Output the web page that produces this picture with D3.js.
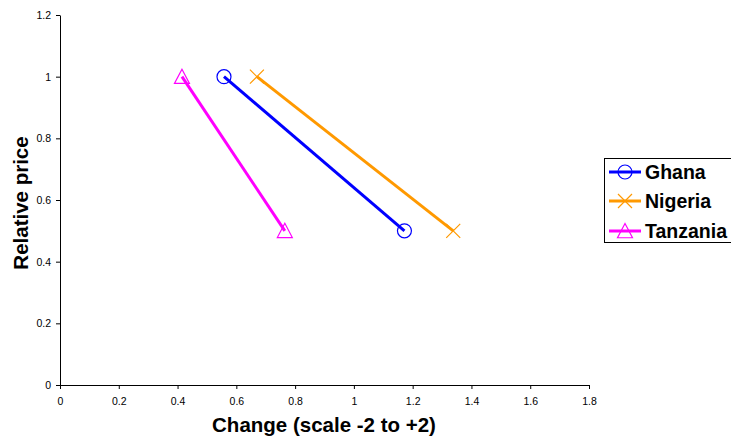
<!DOCTYPE html>
<html>
<head>
<meta charset="utf-8">
<script src="https://cdn.jsdelivr.net/npm/d3@7"></script>
<style>
  html, body { margin: 0; padding: 0; background: #fff; overflow: hidden; }
  svg { display: block; font-family: Arial, "Liberation Sans", sans-serif; }
</style>
</head>
<body>
<svg id="chart" width="731" height="439"></svg>
<script>
// Series: change score (x) against relative price (y)
const seriesNames = ["Ghana", "Nigeria", "Tanzania"];
const seriesColors = ["#0000FF", "#FF9900", "#FF00FF"];
const seriesMarkers = ["circle", "cross", "triangle"];
const ghanaPoints = [[0.558, 1.0], [1.172, 0.5]];
const nigeriaPoints = [[0.67, 1.0], [1.338, 0.5]];
const tanzaniaPoints = [[0.415, 1.0], [0.765, 0.5]];
const xTicks = [0, 0.2, 0.4, 0.6, 0.8, 1, 1.2, 1.4, 1.6, 1.8];
const yTicks = [0, 0.2, 0.4, 0.6, 0.8, 1, 1.2];

const allPoints = [ghanaPoints, nigeriaPoints, tanzaniaPoints];
const svg = d3.select("#chart");
const fontStack = "Arial, 'Liberation Sans', sans-serif";

const x = d3.scaleLinear().domain([0, 1.8]).range([60, 589]);
const y = d3.scaleLinear().domain([0, 1.2]).range([385, 15]);

// Axes
const xAxis = d3.axisBottom(x).tickValues(xTicks).tickSize(4).tickSizeOuter(0)
  .tickFormat(d3.format("~g"));
const yAxis = d3.axisLeft(y).tickValues(yTicks).tickSize(4).tickSizeOuter(0)
  .tickFormat(d3.format("~g"));

const gx = svg.append("g").attr("transform", `translate(0,${y(0)})`).call(xAxis);
gx.select(".domain").attr("stroke", "#000");
gx.selectAll(".tick line").attr("stroke", "#000");
gx.selectAll(".tick text").attr("font-size", 10.5).attr("fill", "#000")
  .attr("font-family", fontStack).attr("y", 0).attr("dy", 0)
  .attr("transform", "translate(0,20)");

const gy = svg.append("g").attr("transform", `translate(${x(0)},0)`).call(yAxis);
gy.select(".domain").attr("stroke", "#000");
gy.selectAll(".tick line").attr("stroke", "#000");
gy.selectAll(".tick text").attr("font-size", 10.5).attr("fill", "#000")
  .attr("font-family", fontStack).attr("x", -9);

// Axis titles
svg.append("text")
  .attr("x", 324).attr("y", 432)
  .attr("text-anchor", "middle")
  .attr("font-size", 20.5).attr("font-weight", "bold")
  .text("Change (scale -2 to +2)");

svg.append("text")
  .attr("transform", `translate(28,203) rotate(-90)`)
  .attr("text-anchor", "middle")
  .attr("font-size", 20.5).attr("font-weight", "bold")
  .text("Relative price");

// Marker drawing
function drawMarker(g, type, color, cx, cy) {
  if (type === "circle") {
    g.append("circle").attr("cx", cx).attr("cy", cy).attr("r", 7)
      .attr("fill", "none").attr("stroke", color).attr("stroke-width", 1.2);
  } else if (type === "cross") {
    const s = 7;
    g.append("path")
      .attr("d", `M${cx - s},${cy - s}L${cx + s},${cy + s}M${cx - s},${cy + s}L${cx + s},${cy - s}`)
      .attr("stroke", color).attr("stroke-width", 1.2).attr("fill", "none");
  } else {
    const s = 7.5;
    g.append("path")
      .attr("d", `M${cx},${cy - s}L${cx + s},${cy + s * 0.9}L${cx - s},${cy + s * 0.9}Z`)
      .attr("stroke", color).attr("stroke-width", 1.2).attr("fill", "none");
  }
}

// Lines and markers
const line = d3.line().x(d => x(d[0])).y(d => y(d[1]));
allPoints.forEach((pts, i) => {
  const g = svg.append("g");
  g.append("path").datum(pts).attr("d", line)
    .attr("fill", "none").attr("stroke", seriesColors[i]).attr("stroke-width", 3);
  pts.forEach(p => drawMarker(g, seriesMarkers[i], seriesColors[i], x(p[0]), y(p[1])));
});

// Legend
const legend = svg.append("g");
legend.append("rect")
  .attr("x", 604.5).attr("y", 158.5).attr("width", 140).attr("height", 84)
  .attr("fill", "#fff").attr("stroke", "#000").attr("stroke-width", 1);
const legendY = [172, 201, 231];
seriesNames.forEach((name, i) => {
  legend.append("line")
    .attr("x1", 609).attr("x2", 641).attr("y1", legendY[i]).attr("y2", legendY[i])
    .attr("stroke", seriesColors[i]).attr("stroke-width", 3);
  drawMarker(legend, seriesMarkers[i], seriesColors[i], 625, legendY[i]);
  legend.append("text")
    .attr("x", 645).attr("y", legendY[i]).attr("dy", "0.36em")
    .attr("font-size", 19.5).attr("font-weight", "bold")
    .text(name);
});
</script>
</body>
</html>
